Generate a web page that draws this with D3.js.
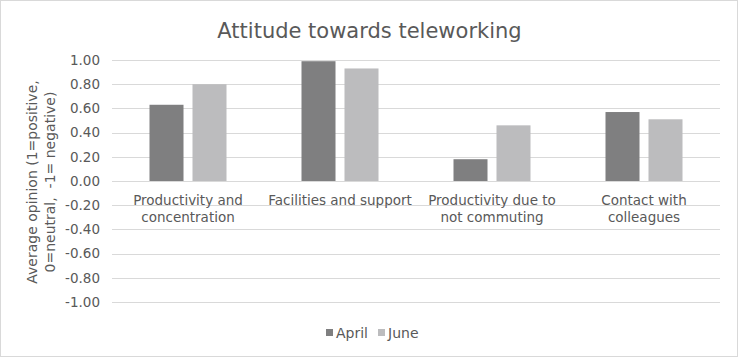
<!DOCTYPE html>
<meta charset="utf-8">

<head>
  <title>Attitude towards teleworking</title>
  <style>
    body { margin: 0; background: #fff; }
    svg { display: block; font-family: "DejaVu Sans", sans-serif; }
  </style>
  <script src="https://d3js.org/d3.v7.min.js"></script>
</head>

<body>
  <div id="content"></div>

  <script>
    var categories = [
      ['Productivity and', 'concentration'],
      ['Facilities and support'],
      ['Productivity due to', 'not commuting'],
      ['Contact with', 'colleagues']
    ];
    var seriesNames = ['April', 'June'];
    var april = [0.63, 0.99, 0.18, 0.57];
    var june = [0.80, 0.93, 0.46, 0.51];
    var yTicks = [1, 0.8, 0.6, 0.4, 0.2, 0, -0.2, -0.4, -0.6, -0.8, -1];

    var colors = ['#7f7f80', '#bcbcbe'];
    var textColor = '#595959';

    var width = 739, height = 358;
    var margin = { top: 60, right: 19, bottom: 56, left: 112 };

    var svg = d3.select('#content').append('svg')
      .attr('width', width)
      .attr('height', height);

    // chart border
    svg.append('rect')
      .attr('x', 0.5).attr('y', 0.5)
      .attr('width', width - 2).attr('height', height - 2)
      .attr('fill', '#fff')
      .attr('stroke', '#d9d9d9');

    var x = d3.scaleBand()
      .domain(d3.range(categories.length))
      .range([margin.left, width - margin.right]);

    var xInner = d3.scaleBand()
      .domain(seriesNames)
      .range([0, 2 * 34 + 9])
      .paddingInner(9 / 43);

    var y = d3.scaleLinear()
      .domain([-1, 1])
      .range([height - margin.bottom, margin.top]);

    // gridlines
    svg.append('g')
      .selectAll('line')
      .data(yTicks)
      .join('line')
      .attr('x1', margin.left)
      .attr('x2', width - margin.right)
      .attr('y1', function (d) { return Math.round(y(d)) + 0.5; })
      .attr('y2', function (d) { return Math.round(y(d)) + 0.5; })
      .attr('stroke', '#d9d9d9')
      .attr('stroke-width', 1);

    // y axis labels
    var yAxis = d3.axisLeft(y)
      .tickValues(yTicks)
      .tickFormat(d3.format('.2f'))
      .tickSize(0)
      .tickPadding(0);

    var gy = svg.append('g')
      .attr('transform', 'translate(' + (margin.left - 12) + ',0)')
      .call(yAxis);
    gy.select('.domain').remove();
    gy.selectAll('text')
      .attr('fill', textColor)
      .style('font-size', '13.5px')
      .style('font-family', '"DejaVu Sans", sans-serif')
      .text(function (d) { return d3.format('.2f')(d).replace('−', '-'); });

    // bars
    var data = [april, june];
    var groups = svg.append('g')
      .selectAll('g')
      .data(data)
      .join('g')
      .attr('fill', function (d, i) { return colors[i]; });

    groups.selectAll('rect')
      .data(function (d, i) {
        return d.map(function (v, j) { return { v: v, j: j, s: seriesNames[i] }; });
      })
      .join('rect')
      .attr('x', function (d) {
        return x(d.j) + x.bandwidth() / 2 - 38.5 + xInner(d.s);
      })
      .attr('width', xInner.bandwidth())
      .attr('y', function (d) { return y(Math.max(0, d.v)); })
      .attr('height', function (d) { return Math.abs(y(d.v) - y(0)); });

    // category labels
    var cat = svg.append('g')
      .selectAll('text')
      .data(categories)
      .join('text')
      .attr('x', function (d, i) { return x(i) + x.bandwidth() / 2; })
      .attr('y', y(0) + 24)
      .attr('text-anchor', 'middle')
      .attr('fill', textColor)
      .style('font-size', '13.5px');
    cat.selectAll('tspan')
      .data(function (d) { return d; })
      .join('tspan')
      .attr('x', function () { return d3.select(this.parentNode).attr('x'); })
      .attr('dy', function (d, i) { return i === 0 ? 0 : 17; })
      .text(function (d) { return d; });

    // title
    svg.append('text')
      .attr('x', width / 2)
      .attr('y', 38)
      .attr('text-anchor', 'middle')
      .attr('fill', textColor)
      .style('font-size', '21px')
      .text('Attitude towards teleworking');

    // y axis title
    var yTitle = svg.append('text')
      .attr('transform', 'translate(37,' + (y(0) + 1) + ') rotate(-90)')
      .attr('text-anchor', 'middle')
      .attr('fill', textColor)
      .style('font-size', '14px')
      .style('white-space', 'pre');
    yTitle.append('tspan').attr('x', 0).attr('dy', 0)
      .text('Average opinion (1=positive,');
    yTitle.append('tspan').attr('x', 0).attr('dy', 18)
      .text('0=neutral,  -1= negative)');

    // legend
    var legend = svg.append('g')
      .attr('transform', 'translate(326,333)');
    var item = legend.selectAll('g')
      .data(seriesNames)
      .join('g')
      .attr('transform', function (d, i) { return 'translate(' + (i * 52) + ',0)'; });
    item.append('rect')
      .attr('x', 0).attr('y', -4)
      .attr('width', 7).attr('height', 7)
      .attr('fill', function (d, i) { return colors[i]; });
    item.append('text')
      .attr('x', 10)
      .attr('y', 0)
      .attr('dy', '0.35em')
      .attr('fill', textColor)
      .style('font-size', '14px')
      .text(function (d) { return d; });
  </script>
</body>

</html>
